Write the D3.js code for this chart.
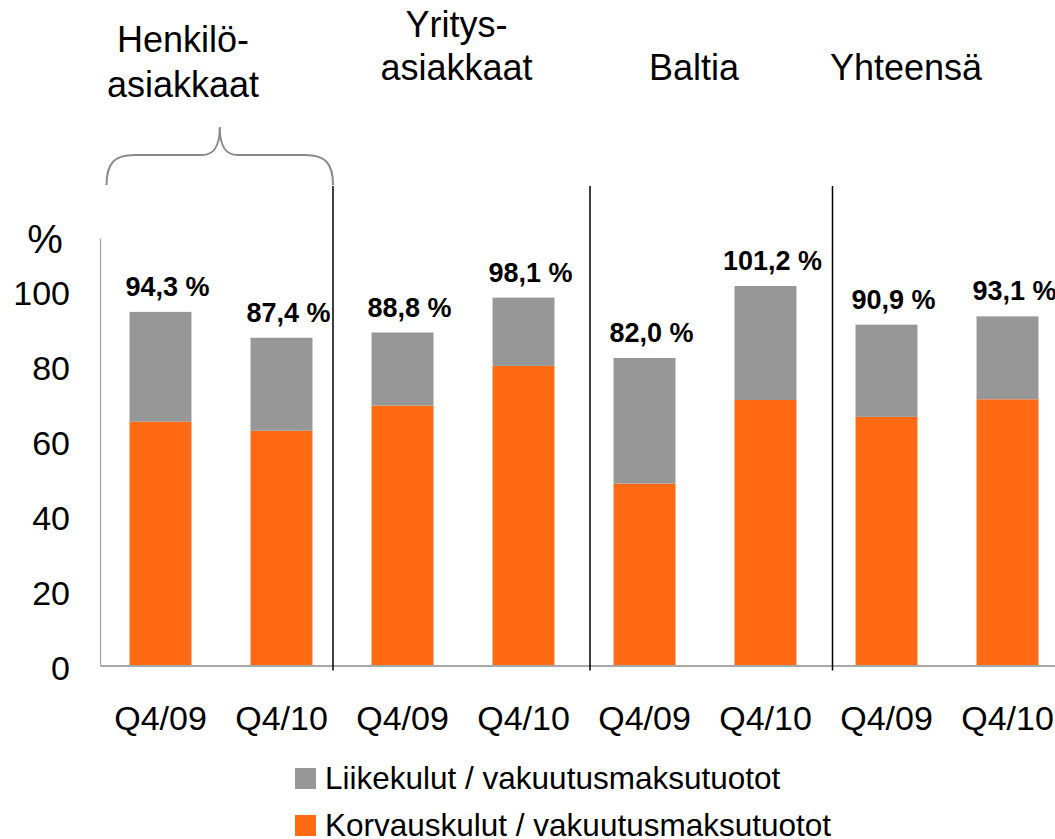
<!DOCTYPE html>
<html>
<head>
<meta charset="utf-8">
<script src="https://cdn.jsdelivr.net/npm/d3@7"></script>
<style>
  html, body { margin: 0; padding: 0; background: #fff; }
  svg { display: block; font-family: "Liberation Sans", Arial, Helvetica, sans-serif; }
</style>
</head>
<body>
<svg id="chart" width="1055" height="839"></svg>
<script>
// ---- data ----
const periods = ["Q4/09", "Q4/10", "Q4/09", "Q4/10", "Q4/09", "Q4/10", "Q4/09", "Q4/10"];
const groupNames = [["Henkilö-", "asiakkaat"], ["Yritys-", "asiakkaat"], ["Baltia"], ["Yhteensä"]];
const korvauskulut = [65.0, 62.6, 69.3, 79.9, 48.5, 70.8, 66.3, 71.0];
const liikekulut = [29.3, 24.8, 19.5, 18.2, 33.5, 30.4, 24.6, 22.1];
const totalLabels = ["94,3 %", "87,4 %", "88,8 %", "98,1 %", "82,0 %", "101,2 %", "90,9 %", "93,1 %"];
const yTicks = [0, 20, 40, 60, 80, 100];
const seriesNames = ["Liikekulut / vakuutusmaksutuotot", "Korvauskulut / vakuutusmaksutuotot"];

// ---- styles ----
const ORANGE = "#FF6A13";
const GREY = "#979797";

const svg = d3.select("#chart");

const rows = periods.map((p, i) => ({ i: i, period: p, korvaus: korvauskulut[i], liike: liikekulut[i] }));

const x = d3.scaleBand()
  .domain(d3.range(periods.length))
  .range([100, 1068])
  .paddingInner(0.488)
  .paddingOuter(0.244);

const y = d3.scaleLinear().domain([0, 114]).range([665.5, 238]);

const stack = d3.stack().keys(["korvaus", "liike"]);
const stacked = stack(rows);
const colors = { korvaus: ORANGE, liike: GREY };

// bars
svg.append("g").selectAll("g")
  .data(stacked)
  .join("g")
  .attr("fill", d => colors[d.key])
  .selectAll("rect")
  .data(d => d)
  .join("rect")
  .attr("x", d => x(d.data.i))
  .attr("width", x.bandwidth())
  .attr("y", d => y(d[1]))
  .attr("height", d => y(d[0]) - y(d[1]));

// y axis
const yAxis = svg.append("g")
  .attr("transform", "translate(100,0)")
  .call(d3.axisLeft(y).tickValues(yTicks).tickSize(0).tickSizeOuter(0).tickPadding(30).tickFormat(d3.format("d")));
yAxis.select(".domain").attr("stroke", "#a0a0a0").attr("stroke-width", 1.2);
yAxis.selectAll("text").attr("font-size", 34).attr("fill", "#000").attr("dy", "0.4em")
  .attr("font-family", "'Liberation Sans', Arial, sans-serif");

svg.append("text")
  .attr("x", 45).attr("y", y(114) + 15)
  .attr("text-anchor", "middle")
  .attr("font-size", 40)
  .text("%");

// x axis
const xAxis = svg.append("g")
  .attr("transform", `translate(0,${y(0)})`)
  .call(d3.axisBottom(x).tickSize(0).tickSizeOuter(0).tickPadding(40).tickFormat(i => periods[i]));
xAxis.select(".domain").attr("stroke", "#a8a8a8").attr("stroke-width", 2);
xAxis.selectAll("text").attr("font-size", 34).attr("fill", "#000")
  .attr("font-family", "'Liberation Sans', Arial, sans-serif");

// value labels
svg.append("g").selectAll("text")
  .data(rows)
  .join("text")
  .attr("x", d => x(d.i) + x.bandwidth() / 2 + 7)
  .attr("y", d => y(d.korvaus + d.liike) - 16)
  .attr("text-anchor", "middle")
  .attr("font-size", 27)
  .attr("font-weight", "bold")
  .text(d => totalLabels[d.i]);

// separators between groups
const sepX = [x(1) + x.bandwidth() + (x.step() - x.bandwidth()) / 2 - 9,
              x(3) + x.bandwidth() + (x.step() - x.bandwidth()) / 2 + 6,
              x(5) + x.bandwidth() + (x.step() - x.bandwidth()) / 2 + 6.5];
svg.append("g").selectAll("line")
  .data(sepX)
  .join("line")
  .attr("x1", d => d).attr("x2", d => d)
  .attr("y1", 186).attr("y2", y(0) + 5)
  .attr("stroke", "#000").attr("stroke-width", 1.5);

// bracket over first group
const bL = x(0) - 23, bR = sepX[0], bM = (bL + bR) / 2;
const bBot = 185, bH = 155, bTop = 127;
const bp = d3.path();
bp.moveTo(bL, bBot);
bp.bezierCurveTo(bL, bH + 8, bL + 8, bH, bL + 28, bH);
bp.lineTo(bM - 18, bH);
bp.bezierCurveTo(bM - 6, bH, bM, bH - 8, bM, bTop);
bp.bezierCurveTo(bM, bH - 8, bM + 6, bH, bM + 18, bH);
bp.lineTo(bR - 28, bH);
bp.bezierCurveTo(bR - 8, bH, bR, bH + 8, bR, bBot);
svg.append("path").attr("d", bp.toString())
  .attr("fill", "none").attr("stroke", "#8a8a8a").attr("stroke-width", 2);

// group headers
const groupCenter = g => (x(2 * g) + x(2 * g + 1) + x.bandwidth()) / 2;
const headerShift = [-38, -6.5, -11, -41];
groupNames.forEach((lines, g) => {
  const t = svg.append("text")
    .attr("x", groupCenter(g) + headerShift[g])
    .attr("text-anchor", "middle")
    .attr("font-size", 36);
  const baseY = lines.length === 2 ? (g === 0 ? 52 : 37) : 80;
  lines.forEach((ln, k) => {
    t.append("tspan")
      .attr("x", groupCenter(g) + headerShift[g])
      .attr("y", baseY + k * (g === 0 ? 45 : 43))
      .text(ln);
  });
});

// legend
const legend = svg.append("g");
const legendColors = [GREY, ORANGE];
seriesNames.forEach((name, k) => {
  const yy = 768 + k * 47;
  legend.append("rect").attr("x", 295).attr("y", yy).attr("width", 21).attr("height", 21).attr("fill", legendColors[k]);
  legend.append("text").attr("x", 325).attr("y", yy + 21).attr("font-size", 31.5).text(name);
});
</script>
</body>
</html>
